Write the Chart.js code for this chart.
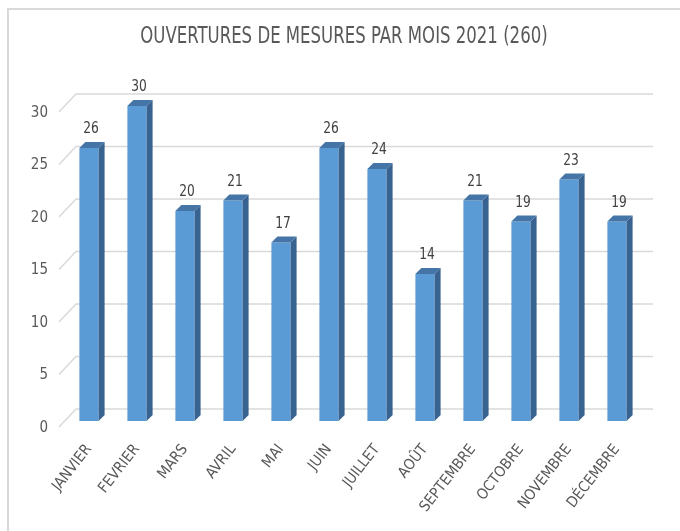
<!DOCTYPE html>
<html>
<head>
<meta charset="utf-8">
<script src="https://cdn.jsdelivr.net/npm/chart.js@4.4.1/dist/chart.umd.min.js"></script>
<style>
  html, body { margin: 0; padding: 0; background: #fff; }
  #wrap { width: 680px; height: 531px; position: relative; }
</style>
</head>
<body>
<div id="wrap"><canvas id="c"></canvas></div>
<script>
const months = ['JANVIER', 'FEVRIER', 'MARS', 'AVRIL', 'MAI', 'JUIN', 'JUILLET', 'AOÛT', 'SEPTEMBRE', 'OCTOBRE', 'NOVEMBRE', 'DÉCEMBRE']
const ouvertures = [26, 30, 20, 21, 17, 26, 24, 14, 21, 19, 23, 19]
const yTicks = [0, 5, 10, 15, 20, 25, 30]
const titre = 'OUVERTURES DE MESURES PAR MOIS 2021 (260)'

const FONT = '"DejaVu Sans Condensed", "Liberation Sans Narrow", sans-serif'
const TEXT = '#595959'
const GRID = '#d9d9d9'

// back wall offset and bar depth
const WALL = { dx: 11, dy: -12 }
const DEPTH = 6

// narrow text, like the Calibri look of the original workbook
function narrowText(ctx, txt, x, y, size, sx) {
  ctx.save()
  ctx.translate(x, y)
  ctx.scale(sx, 1)
  ctx.font = size + 'px ' + FONT
  ctx.textAlign = 'center'
  ctx.textBaseline = 'middle'
  ctx.fillText(txt, 0, 0)
  ctx.restore()
}

const faux3d = {
  id: 'faux3d',
  beforeDraw(chart) {
    const ctx = chart.ctx
    ctx.save()
    ctx.strokeStyle = GRID
    ctx.lineWidth = 2
    ctx.beginPath()
    ctx.moveTo(8, chart.height)
    ctx.lineTo(8, 9)
    ctx.lineTo(chart.width, 9)
    ctx.stroke()
    ctx.fillStyle = TEXT
    narrowText(ctx, titre, 344, 37, 23, 0.8)
    ctx.restore()
  },
  beforeDatasetsDraw(chart) {
    const { ctx, chartArea: a, scales: { y } } = chart
    ctx.save()
    ctx.strokeStyle = GRID
    ctx.lineWidth = 1.5
    yTicks.forEach(v => {
      const by = y.getPixelForValue(v) + WALL.dy
      ctx.beginPath()
      ctx.moveTo(a.left - 6, by + 18)
      ctx.lineTo(a.left + WALL.dx, by)
      ctx.lineTo(a.right + WALL.dx + 1, by)
      ctx.stroke()
    })
    ctx.restore()
  },
  afterDatasetsDraw(chart) {
    const ctx = chart.ctx
    const meta = chart.getDatasetMeta(0)
    ctx.save()
    meta.data.forEach((bar, i) => {
      const { x, y, base, width } = bar.getProps(['x', 'y', 'base', 'width'], true)
      const l = x - width / 2, r = x + width / 2
      // side face
      ctx.fillStyle = '#386290'
      ctx.beginPath()
      ctx.moveTo(r, y)
      ctx.lineTo(r + DEPTH, y - DEPTH)
      ctx.lineTo(r + DEPTH, base - DEPTH)
      ctx.lineTo(r, base)
      ctx.closePath()
      ctx.fill()
      // top face
      ctx.fillStyle = '#4475a6'
      ctx.beginPath()
      ctx.moveTo(l, y)
      ctx.lineTo(l + DEPTH, y - DEPTH)
      ctx.lineTo(r + DEPTH, y - DEPTH)
      ctx.lineTo(r, y)
      ctx.closePath()
      ctx.fill()
      // value label
      ctx.fillStyle = '#404040'
      narrowText(ctx, String(ouvertures[i]), x + 2, y - DEPTH - 13, 16, 0.85)
    })
    ctx.restore()
  }
}

new Chart(document.getElementById('c'), {
  type: 'bar',
  data: {
    labels: months,
    datasets: [{
      data: ouvertures,
      backgroundColor: '#5b9bd5',
      borderWidth: 0,
      barPercentage: 0.4,
      categoryPercentage: 1
    }]
  },
  options: {
    responsive: true,
    maintainAspectRatio: false,
    devicePixelRatio: 1,
    animation: false,
    layout: { padding: { left: 10, right: 39, top: 106, bottom: 0 } },
    scales: {
      x: {
        grid: { display: false },
        border: { display: false },
        afterFit: s => { s.height = 110 },
        ticks: {
          autoSkip: false,
          maxRotation: 52,
          minRotation: 52,
          padding: 12,
          color: TEXT,
          font: { family: FONT, size: 15 }
        }
      },
      y: {
        min: 0,
        max: 30,
        grid: { display: false },
        border: { display: false },
        afterFit: s => { s.width = 55 },
        ticks: {
          stepSize: 5,
          padding: 9,
          labelOffset: 7,
          color: TEXT,
          font: { family: FONT, size: 15 }
        }
      }
    },
    plugins: {
      legend: { display: false },
      tooltip: { enabled: false },
      title: { display: false }
    }
  },
  plugins: [faux3d]
})
</script>
</body>
</html>
